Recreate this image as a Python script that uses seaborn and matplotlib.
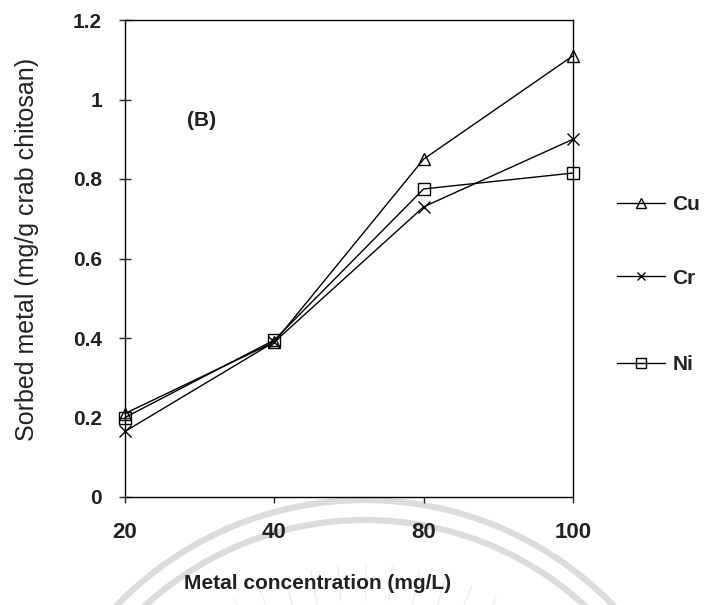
import numpy as np
import pandas as pd
import matplotlib
matplotlib.use("Agg")
import matplotlib.pyplot as plt
from matplotlib.patches import Arc
import seaborn as sns

# ---- data ----
concentrations = ["20", "40", "80", "100"]
cu_values = [0.21, 0.39, 0.85, 1.11]
cr_values = [0.165, 0.39, 0.73, 0.90]
ni_values = [0.20, 0.395, 0.775, 0.815]
series_names = ["Cu", "Cr", "Ni"]
y_ticks = [0, 0.2, 0.4, 0.6, 0.8, 1.0, 1.2]
x_label = "Metal concentration (mg/L)"
y_label = "Sorbed metal (mg/g crab chitosan)"
panel_label = "(B)"

sns.set_theme(style="white")
plt.rcParams["font.family"] = ["Liberation Sans", "DejaVu Sans"]

fig = plt.figure(figsize=(7.10, 6.05), dpi=100)

# faint watermark (background)
bg = fig.add_axes([0, 0, 1, 1], zorder=-5)
bg.set_xlim(0, 710)
bg.set_ylim(605, 0)
bg.axis("off")
cx, cy = 365, 845
for r in (345, 325):
    bg.add_patch(Arc((cx, cy), 2 * r, 2 * r, theta1=0, theta2=360,
                     color="#dcdcdc", lw=4.5))
for ang in np.linspace(-28, 28, 11):
    a = np.deg2rad(ang)
    r1, r2 = 245, 280
    bg.plot([cx + r1 * np.sin(a), cx + r2 * np.sin(a)],
            [cy - r1 * np.cos(a), cy - r2 * np.cos(a)],
            color="#ebebeb", lw=0.9)

ax = fig.add_axes([125 / 710, 1 - 497 / 605, 448 / 710, 477 / 605])
ax.set_facecolor("none")

df = pd.DataFrame({
    "conc": concentrations * 3,
    "value": cu_values + cr_values + ni_values,
    "metal": np.repeat(series_names, len(concentrations)),
})

markers = {"Cu": "^", "Cr": "x", "Ni": "s"}
msize = {"Cu": 9, "Cr": 8, "Ni": 9}
for name in series_names:
    sub = df[df["metal"] == name]
    sns.lineplot(data=sub, x="conc", y="value", ax=ax, sort=False,
                 color="black", lw=1.0, marker=markers[name],
                 markersize=msize[name], markerfacecolor="none",
                 markeredgecolor="black", markeredgewidth=1.0,
                 label=name, zorder=3, clip_on=False)

if ax.get_legend() is not None:
    ax.get_legend().remove()

ax.set_xlim(0, 3)
ax.set_ylim(0, 1.2)
ax.set_yticks(y_ticks)
ax.set_yticklabels([f"{v:g}" for v in y_ticks])

for sp in ax.spines.values():
    sp.set_visible(True)
    sp.set_color("black")
    sp.set_linewidth(1.0)

ax.tick_params(axis="y", direction="inout", length=9, width=1.0,
               pad=12, labelsize=15, left=True)
ax.tick_params(axis="x", direction="out", length=4, width=1.0,
               pad=14, labelsize=16, bottom=True)
for lab in ax.get_xticklabels() + ax.get_yticklabels():
    lab.set_fontweight("bold")
    lab.set_color("#222222")

ax.set_xlabel(x_label, fontsize=15, fontweight="bold", color="#222222")
ax.set_ylabel(y_label, fontsize=18, color="#222222")
ax.xaxis.set_label_coords((318 - 125) / 448, -(574 - 497) / 477)
ax.yaxis.set_label_coords(-(125 - 39) / 448, (497 - 249) / 477)

ax.text(202, 120, panel_label, transform=bg.transData, fontsize=15,
        fontweight="bold", ha="center", va="center", color="#222222")

# legend: separate entries at uneven spacing
handles, labels = ax.get_legend_handles_labels()
ypos = {"Cu": 1 - 205 / 605, "Cr": 1 - 278 / 605, "Ni": 1 - 365 / 605}
for h, l in zip(handles, labels):
    leg = fig.legend([h], [l], loc="center left",
                     bbox_to_anchor=(617 / 710, ypos[l]),
                     frameon=False, handlelength=2.3,
                     handletextpad=0.35, borderpad=0, borderaxespad=0,
                     markerscale=0.8,
                     prop={"weight": "bold", "size": 15})
    for t in leg.get_texts():
        t.set_color("#222222")

fig.savefig("out.png", dpi=100)
